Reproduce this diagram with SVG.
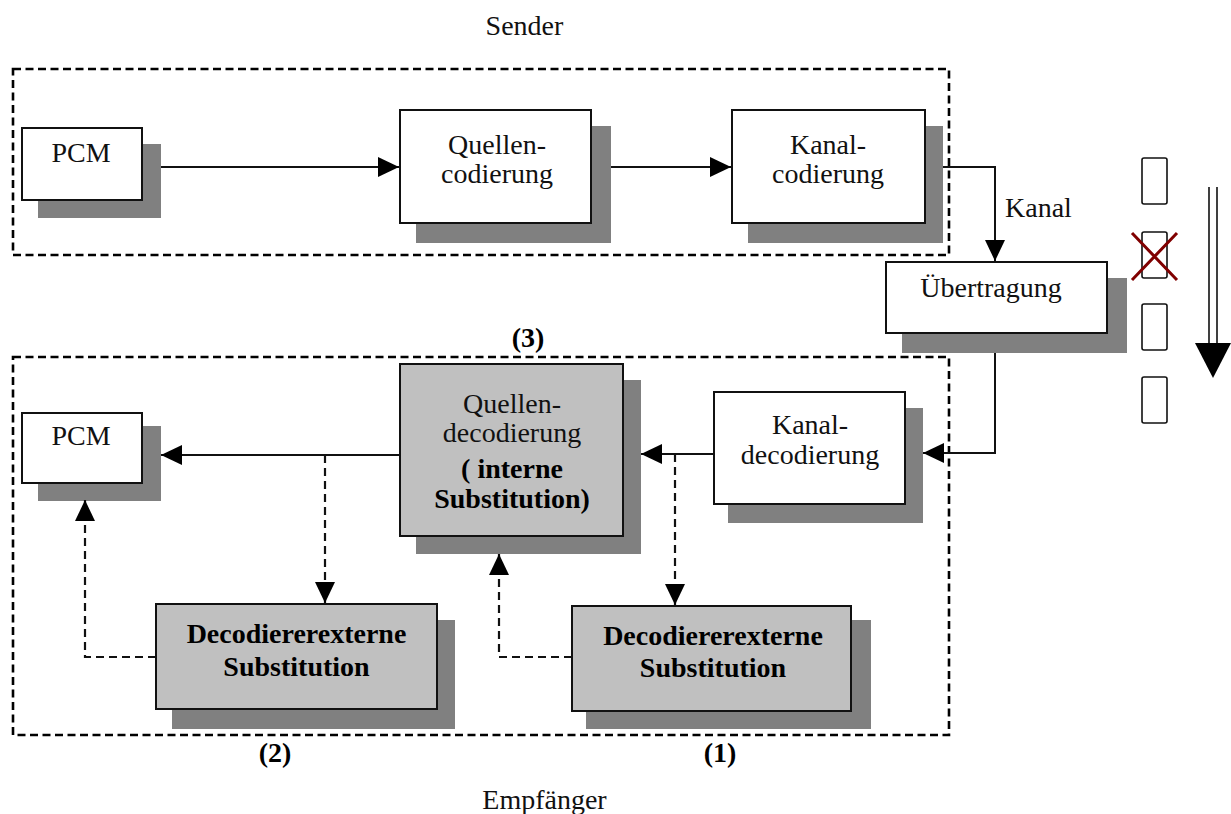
<svg xmlns="http://www.w3.org/2000/svg" width="1231" height="814" viewBox="0 0 1231 814">
  <defs>
    <marker id="arrow" markerUnits="userSpaceOnUse" markerWidth="21" markerHeight="20" refX="21" refY="10" orient="auto">
      <path d="M0,0 L21,10 L0,20 Z" fill="#000"/>
    </marker>
  </defs>
  <style>
    .frame { fill: none; stroke: #000; stroke-width: 2.6; stroke-dasharray: 8 4.5; }
    .shadow { fill: #808080; }
    .box { fill: #fff; stroke: #111; stroke-width: 2; }
    .gbox { fill: #c0c0c0; stroke: #111; stroke-width: 2; }
    .t { font-family: "Liberation Serif", "Times New Roman", serif; font-size: 28px; fill: #111; }
    .b { font-family: "Liberation Serif", "Times New Roman", serif; font-size: 28px; font-weight: bold; fill: #000; }
    .c { text-anchor: middle; }
    .line { fill: none; stroke: #111; stroke-width: 2; }
    .dash { fill: none; stroke: #111; stroke-width: 2.2; stroke-dasharray: 8 5; }
    .slot { fill: #fff; stroke: #111; stroke-width: 1.6; }
  </style>
  <rect width="1231" height="814" fill="#fff"/>

  <!-- section frames -->
  <g id="sender-frame">
    <rect class="frame" x="13" y="69" width="936" height="186"/>
    <text class="t c" x="524.5" y="35">Sender</text>
  </g>
  <g id="receiver-frame">
    <rect class="frame" x="13" y="357" width="936" height="378"/>
    <text class="t c" x="544.5" y="809">Empfänger</text>
  </g>

  <!-- sender chain -->
  <g id="pcm-in">
    <rect class="shadow" x="38" y="144" width="123" height="74"/>
    <rect class="box" x="22" y="128" width="120" height="72"/>
    <text class="t c" x="81" y="162">PCM</text>
  </g>
  <g id="source-coding">
    <rect class="shadow" x="416" y="126" width="195" height="117"/>
    <rect class="box" x="400" y="110" width="191" height="113"/>
    <text class="t c" x="497" y="154">Quellen-</text>
    <text class="t c" x="497" y="183">codierung</text>
  </g>
  <g id="channel-coding">
    <rect class="shadow" x="748" y="126" width="195" height="117"/>
    <rect class="box" x="732" y="110" width="193" height="113"/>
    <text class="t c" x="828" y="154">Kanal-</text>
    <text class="t c" x="828" y="183">codierung</text>
  </g>
  <g id="transmission">
    <rect class="shadow" x="902" y="278" width="225" height="75"/>
    <rect class="box" x="886" y="262" width="221" height="71"/>
    <text class="t c" x="991" y="297">Übertragung</text>
  </g>

  <!-- receiver chain -->
  <g id="channel-decoding">
    <rect class="shadow" x="728" y="408" width="195" height="115"/>
    <rect class="box" x="714" y="392" width="191" height="112"/>
    <text class="t c" x="810" y="434">Kanal-</text>
    <text class="t c" x="810" y="464">decodierung</text>
  </g>
  <g id="source-decoding">
    <rect class="shadow" x="416" y="380" width="225" height="174"/>
    <rect class="gbox" x="400" y="364" width="223" height="172"/>
    <text class="t c" x="512" y="413">Quellen-</text>
    <text class="t c" x="512" y="442">decodierung</text>
    <text class="b c" x="512" y="478">( interne</text>
    <text class="b c" x="512" y="508">Substitution)</text>
  </g>
  <g id="pcm-out">
    <rect class="shadow" x="38" y="426" width="123" height="75"/>
    <rect class="box" x="22" y="413" width="120" height="70"/>
    <text class="t c" x="81" y="445">PCM</text>
  </g>
  <g id="external-substitution-2">
    <rect class="shadow" x="172" y="620" width="283" height="109"/>
    <rect class="gbox" x="156" y="604" width="281" height="105"/>
    <text class="b c" x="296.5" y="643">Decodiererexterne</text>
    <text class="b c" x="296.5" y="676">Substitution</text>
  </g>
  <g id="external-substitution-1">
    <rect class="shadow" x="586" y="620" width="285" height="109"/>
    <rect class="gbox" x="572" y="606" width="279" height="105"/>
    <text class="b c" x="713" y="645">Decodiererexterne</text>
    <text class="b c" x="713" y="677">Substitution</text>
  </g>

  <!-- variant labels -->
  <g id="labels">
    <text class="b c" x="528" y="347">(3)</text>
    <text class="b c" x="275" y="762">(2)</text>
    <text class="b c" x="720" y="762">(1)</text>
  </g>

  <!-- frame sequence with a lost frame -->
  <g id="frame-sequence">
    <rect class="slot" x="1142" y="158" width="25" height="46" rx="2"/>
    <rect class="slot" x="1142" y="232" width="25" height="46" rx="2"/>
    <rect class="slot" x="1142" y="304" width="25" height="46" rx="2"/>
    <rect class="slot" x="1142" y="377" width="25" height="46" rx="2"/>
    <path d="M1132,233 L1177,280 M1177,233 L1132,280" stroke="#800000" stroke-width="3" fill="none"/>
    <path d="M1209,187 V344 M1217,187 V344" stroke="#111" stroke-width="1.6" fill="none"/>
    <polygon points="1195,343 1231,343 1213,378" fill="#000"/>
  </g>

  <!-- connectors -->
  <g id="connectors">
    <path class="line" d="M161,167 H399" marker-end="url(#arrow)"/>
    <path class="line" d="M611,167 H731" marker-end="url(#arrow)"/>
    <path class="line" d="M943,167 H995 V261" marker-end="url(#arrow)"/>
    <text class="t" x="1005" y="217">Kanal</text>
    <path class="line" d="M995,353 V453 H923" marker-end="url(#arrow)"/>
    <path class="line" d="M714,454 H641" marker-end="url(#arrow)"/>
    <path class="line" d="M400,455 H161" marker-end="url(#arrow)"/>
    <path class="dash" d="M675,454 V605" marker-end="url(#arrow)"/>
    <path class="dash" d="M572,657 H499 V554" marker-end="url(#arrow)"/>
    <path class="dash" d="M325,455 V603" marker-end="url(#arrow)"/>
    <path class="dash" d="M156,657 H85 V500" marker-end="url(#arrow)"/>
  </g>
</svg>
